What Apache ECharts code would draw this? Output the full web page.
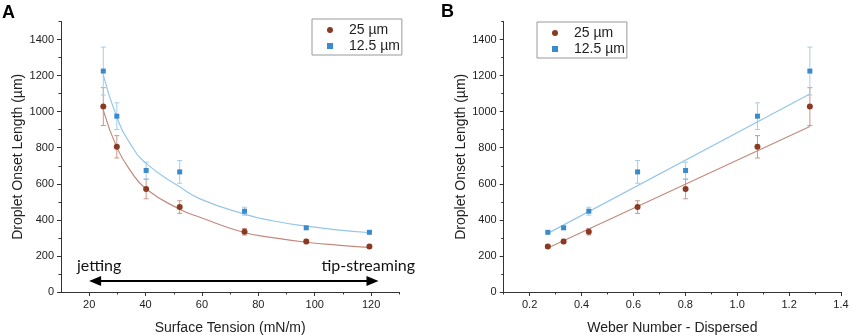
<!DOCTYPE html>
<html>
<head>
<meta charset="utf-8">
<script src="https://cdn.jsdelivr.net/npm/echarts@6/dist/echarts.min.js"></script>
<style>
  html, body { margin: 0; padding: 0; background: #fff; }
  #main { width: 851px; height: 335px; }
</style>
</head>
<body>
<div id="main"></div>
<script>
// measured points, same droplets in both panels
const surfaceTension = [25.0, 29.8, 40.2, 52.1, 75.1, 97.0, 119.4];
const weberNumber = [1.28, 1.078, 0.801, 0.616, 0.428, 0.331, 0.270];
const onset25 = [1028, 805, 571, 471, 334, 280, 252];
const err25 = [105, 62, 54, 35, 18, 12, 9];
const onset125 = [1225, 975, 674, 666, 448, 356, 331];
const err125 = [133, 74, 46, 63, 22, 8, 6];

// fitted curves
const fitTensionX = [25, 29.8, 34.5, 40.2, 52.1, 59.5, 75, 85, 97, 108, 119];
const fit25Tension = [1009, 802, 676, 571, 459, 413, 330, 302, 276, 260, 248];
const fit125Tension = [1204, 969, 824, 713, 583, 515, 432, 395, 365, 345, 330];
const fitWeberX = [0.27, 1.28];
const fit25Weber = [244, 918];
const fit125Weber = [325, 1098];

// jetting <-> tip-streaming arrow (end points at the arrow head centres)
const arrowSpan = [22.1, 120.5];
const arrowLevel = 61;

// ticks
const tensionMajor = [20, 40, 60, 80, 100, 120];
const tensionMinor = [30, 50, 70, 90, 110, 130];
const weberMajor = [0.2, 0.4, 0.6, 0.8, 1.0, 1.2, 1.4];
const weberMinor = [0.1, 0.3, 0.5, 0.7, 0.9, 1.1, 1.3];
const onsetMajor = [0, 200, 400, 600, 800, 1000, 1200, 1400];
const onsetMinor = [100, 300, 500, 700, 900, 1100, 1300, 1500];

const BROWN = '#8a3a22';
const BLUE = '#3b8bcc';
const FONT = 'Arial';

function pairs(xs, ys) {
    return xs.map(function (x, i) { return [x, ys[i]]; });
}

function triples(xs, ys, es) {
    return xs.map(function (x, i) { return [x, ys[i], es[i]]; });
}

function errorBars(color) {
    return function (params, api) {
        var x = api.value(0), y = api.value(1), e = api.value(2);
        var top = api.coord([x, y + e]);
        var bot = api.coord([x, y - e]);
        var w = 2.5;
        var st = { stroke: color, lineWidth: 1 };
        return {
            type: 'group',
            children: [
                { type: 'line', shape: { x1: top[0], y1: top[1], x2: bot[0], y2: bot[1] }, style: st },
                { type: 'line', shape: { x1: top[0] - w, y1: top[1], x2: top[0] + w, y2: top[1] }, style: st },
                { type: 'line', shape: { x1: bot[0] - w, y1: bot[1], x2: bot[0] + w, y2: bot[1] }, style: st }
            ]
        };
    };
}

function majorX(gridIndex, min, max, ticks, name, fmt) {
    return {
        type: 'value', gridIndex: gridIndex, min: min, max: max, position: 'bottom',
        name: name, nameLocation: 'middle', nameGap: 29,
        nameTextStyle: { fontFamily: FONT, fontSize: 14, color: '#222' },
        axisLine: { show: true, lineStyle: { color: '#333', width: 1 } },
        axisTick: { show: true, inside: false, length: 4, customValues: ticks, lineStyle: { color: '#333' } },
        axisLabel: { customValues: ticks, margin: 7, fontFamily: FONT, fontSize: 11, color: '#222', formatter: fmt },
        splitLine: { show: false }
    };
}

function minorAxis(gridIndex, min, max, ticks, pos) {
    return {
        type: 'value', gridIndex: gridIndex, min: min, max: max, position: pos,
        axisLine: { show: false, onZero: false },
        axisTick: { show: true, inside: false, length: 2.5, customValues: ticks, lineStyle: { color: '#333' } },
        axisLabel: { show: false },
        splitLine: { show: false }
    };
}

function majorY(gridIndex) {
    return {
        type: 'value', gridIndex: gridIndex, min: 0, max: 1500, position: 'left',
        name: 'Droplet Onset Length (µm)', nameLocation: 'middle', nameGap: 34, nameRotate: 90,
        nameTextStyle: { fontFamily: FONT, fontSize: 14, color: '#222' },
        axisLine: { show: true, lineStyle: { color: '#333', width: 1 } },
        axisTick: { show: true, inside: false, length: 4, customValues: onsetMajor, lineStyle: { color: '#333' } },
        axisLabel: {
            customValues: onsetMajor, margin: 7, fontFamily: FONT, fontSize: 11, color: '#222',
            formatter: function (v) { return String(v); }
        },
        splitLine: { show: false }
    };
}

function panelSeries(xi, yi, xs, fitX, fit25, fit125, smooth) {
    return [
        {
            name: 'fit25', type: 'line', xAxisIndex: xi, yAxisIndex: yi,
            data: pairs(fitX, fit25), showSymbol: false, smooth: smooth,
            lineStyle: { color: '#c28a7e', width: 1.2 }, z: 2, silent: true
        },
        {
            name: 'fit125', type: 'line', xAxisIndex: xi, yAxisIndex: yi,
            data: pairs(fitX, fit125), showSymbol: false, smooth: smooth,
            lineStyle: { color: '#96c6e8', width: 1.2 }, z: 2, silent: true
        },
        {
            name: 'err25', type: 'custom', xAxisIndex: xi, yAxisIndex: yi,
            data: triples(xs, onset25, err25), renderItem: errorBars('#c9978c'), z: 1, silent: true
        },
        {
            name: 'err125', type: 'custom', xAxisIndex: xi, yAxisIndex: yi,
            data: triples(xs, onset125, err125), renderItem: errorBars('#a7cde9'), z: 1, silent: true
        },
        {
            name: '25 µm', type: 'scatter', xAxisIndex: xi, yAxisIndex: yi,
            data: pairs(xs, onset25), symbol: 'circle', symbolSize: 6,
            itemStyle: { color: BROWN, opacity: 1 }, z: 4
        },
        {
            name: '12.5 µm', type: 'scatter', xAxisIndex: xi, yAxisIndex: yi,
            data: pairs(xs, onset125), symbol: 'rect', symbolSize: 5,
            itemStyle: { color: BLUE, opacity: 1 }, z: 4
        }
    ];
}

function legendAt(left, top) {
    return {
        left: left, top: top, orient: 'vertical',
        data: [{ name: '25 µm', icon: 'circle' }, { name: '12.5 µm', icon: 'rect' }],
        itemWidth: 6, itemHeight: 6, itemGap: 0,
        padding: [3, 2, 1, 15],
        borderColor: '#999', borderWidth: 1, borderRadius: 0,
        textStyle: { fontFamily: FONT, fontSize: 14, color: '#222', lineHeight: 16, padding: [0, 0, 0, 11] },
        selectedMode: false
    };
}

var chart = echarts.init(document.getElementById('main'));

var seriesA = panelSeries(0, 0, surfaceTension, fitTensionX, fit25Tension, fit125Tension, 0.5);
seriesA[0].markLine = {
    silent: true,
    symbol: ['triangle', 'triangle'],
    symbolSize: [10, 12],
    label: { show: false },
    lineStyle: { color: '#000', width: 2, type: 'solid' },
    data: [[{ coord: [arrowSpan[0], arrowLevel] }, { coord: [arrowSpan[1], arrowLevel] }]]
};
var seriesB = panelSeries(2, 2, weberNumber, fitWeberX, fit25Weber, fit125Weber, false);

chart.setOption({
    animation: false,
    backgroundColor: '#fff',
    grid: [
        { left: 61, top: 21.5, width: 338.3, height: 270.5, containLabel: false, outerBoundsMode: 'none' },
        { left: 503.7, top: 21.5, width: 337.3, height: 270.5, containLabel: false, outerBoundsMode: 'none' }
    ],
    xAxis: [
        majorX(0, 10, 130, tensionMajor, 'Surface Tension (mN/m)'),
        minorAxis(0, 10, 130, tensionMinor, 'bottom'),
        majorX(1, 0.1, 1.4, weberMajor, 'Weber Number - Dispersed', function (v) { return v.toFixed(1); }),
        minorAxis(1, 0.1, 1.4, weberMinor, 'bottom')
    ],
    yAxis: [
        majorY(0),
        minorAxis(0, 0, 1500, onsetMinor, 'left'),
        majorY(1),
        minorAxis(1, 0, 1500, onsetMinor, 'left')
    ],
    legend: [legendAt(312, 19), legendAt(537, 22)],
    graphic: [
        { type: 'text', style: { x: 2, y: 13, text: 'A', font: 'bold 18px Arial', fill: '#000', textVerticalAlign: 'middle' } },
        { type: 'text', style: { x: 441, y: 12, text: 'B', font: 'bold 18px Arial', fill: '#000', textVerticalAlign: 'middle' } },
        { type: 'text', style: { x: 77, y: 266, text: 'jetting', font: '16px Lato', fill: '#111', textVerticalAlign: 'middle' } },
        { type: 'text', style: { x: 415, y: 266, text: 'tip-streaming', font: '16px Lato', fill: '#111', textAlign: 'right', textVerticalAlign: 'middle' } }
    ],
    series: seriesA.concat(seriesB)
});
</script>
</body>
</html>
